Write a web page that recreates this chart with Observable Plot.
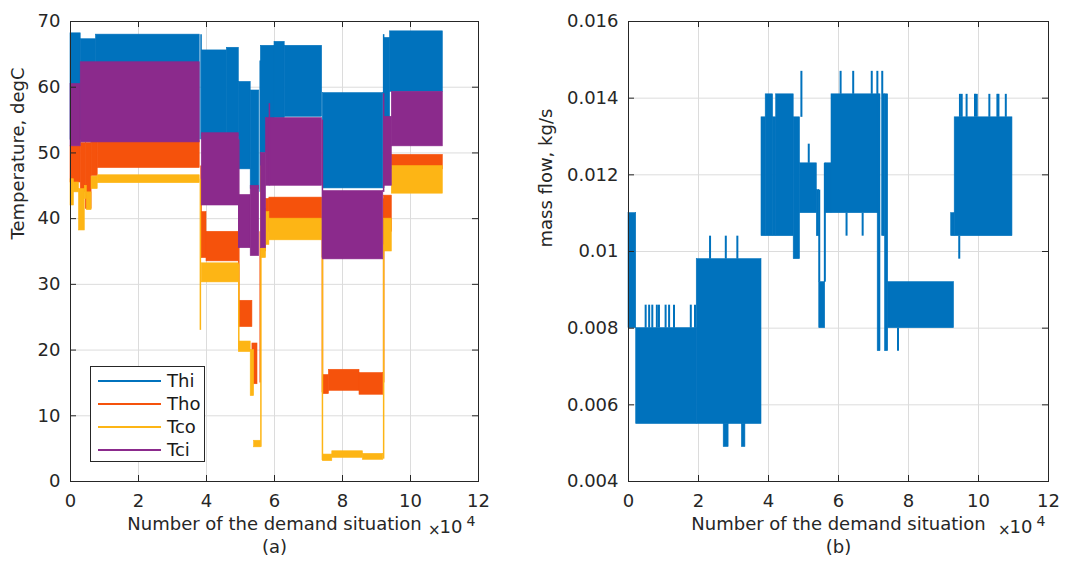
<!DOCTYPE html>
<html>
<head>
<meta charset="utf-8">
<script src="https://cdn.jsdelivr.net/npm/d3@7"></script>
<script src="https://cdn.jsdelivr.net/npm/@observablehq/plot@0.6"></script>
<style>
  html, body { margin: 0; padding: 0; background: #fff; }
  #wrap { position: relative; width: 1065px; height: 563px; display: flex; }
  #legend { position: absolute; left: 90px; top: 366px; width: 115px; height: 96px; box-sizing: border-box;
    border: 1px solid #262626; background: #fff; padding-top: 2px; font-family: "DejaVu Sans", sans-serif; font-size: 18px; color: #1a1a1a; }
  .row { height: 23px; display: flex; align-items: center; }
  .swatch { margin-left: 7px; width: 63px; height: 2px; margin-right: 6px; }
</style>
</head>
<body>
<div id="wrap"><div id="left"></div><div id="right"></div><div id="legend"></div></div>
<script>
// ---------- data (x in units of 10^4 demand situations) ----------
const xTicks = [0, 2, 4, 6, 8, 10, 12];
const tempTicks = [0, 10, 20, 30, 40, 50, 60, 70];
const flowTicks = [0.004, 0.006, 0.008, 0.010, 0.012, 0.014, 0.016];
const flowTickLabels = ["0.004", "0.006", "0.008", "0.01", "0.012", "0.014", "0.016"];

const seriesNames = ["Thi", "Tho", "Tco", "Tci"];
const seriesColors = ["#0072BD", "#F5520C", "#FDB515", "#8B2A8C"];
const flowColor = "#0072BD";

// oscillation envelopes: [x start, x end, min, max]
const thiBands = [
  [0, 0.3, 52, 68.2], [0.3, 0.75, 52, 67.3], [0.75, 3.8, 52, 68],
  [3.86, 4.6, 52.5, 65.6], [4.6, 4.95, 52.5, 66],
  [4.95, 5.3, 47.5, 60.8], [5.3, 5.55, 44.5, 59.5],
  [5.6, 6.0, 50, 66.3], [6.0, 6.3, 55.3, 66.9], [6.3, 7.4, 55.5, 66.3],
  [7.42, 9.2, 44.6, 59.1],
  [9.22, 9.4, 55, 67.5], [9.4, 10.95, 59.3, 68.5]
];
const thoBands = [
  [0, 0.3, 45.5, 51], [0.3, 0.45, 44, 51.5], [0.45, 0.62, 41.5, 51.5], [0.62, 0.8, 46.5, 52],
  [0.8, 3.8, 47.7, 51.8],
  [3.86, 4.0, 34, 41], [4.0, 4.95, 33.5, 38],
  [4.95, 5.35, 23.5, 27.5], [5.35, 5.5, 14.8, 21],
  [5.62, 5.75, 35, 41.5], [5.75, 5.85, 38, 43], [5.85, 7.4, 39.8, 43.2],
  [7.42, 7.6, 13.3, 16.2], [7.6, 8.5, 13.8, 17], [8.5, 9.2, 13.2, 16.5],
  [9.22, 9.45, 38, 43.5], [9.45, 10.95, 47.5, 49.7]
];
const tcoBands = [
  [0, 0.1, 42, 46], [0.1, 0.25, 44, 45.5], [0.25, 0.42, 38.2, 44.5], [0.42, 0.48, 43, 45],
  [0.48, 0.62, 41.3, 44], [0.62, 0.8, 44.5, 46.4], [0.8, 3.8, 45.4, 46.6],
  [3.86, 4.95, 30.3, 33.2],
  [4.95, 5.3, 19.7, 21.3], [5.3, 5.4, 13, 20], [5.4, 5.6, 5.2, 6.2],
  [5.62, 5.75, 34, 40], [5.75, 5.85, 36, 41], [5.85, 7.4, 36.7, 40],
  [7.42, 7.7, 3.1, 4.1], [7.7, 8.6, 3.6, 4.6], [8.6, 9.2, 3.3, 4.2],
  [9.22, 9.45, 35, 40], [9.45, 10.95, 43.8, 48]
];
const tciBands = [
  [0, 0.3, 51, 60.5], [0.3, 3.8, 51.6, 63.8],
  [3.86, 4.95, 42, 53],
  [4.95, 5.3, 35.5, 43.6], [5.3, 5.55, 34.3, 45],
  [5.6, 5.75, 35.5, 50], [5.75, 7.4, 45, 55.3],
  [7.42, 9.2, 33.8, 44.2],
  [9.22, 9.45, 45, 55.5], [9.45, 10.95, 51, 59.3]
];
// transient jumps: [x, from, to]
const thiJumps = [[3.84, 52, 68], [5.58, 44, 64], [9.21, 44.6, 68]];
const thoJumps = [[3.84, 34, 48], [4.95, 24, 38], [5.58, 15, 38], [7.41, 13.5, 43], [9.21, 15, 43]];
const tcoJumps = [[3.82, 23, 46], [4.95, 20, 33], [5.6, 5.2, 48], [7.41, 3.2, 40], [9.21, 3.4, 36]];
const tciJumps = [[4.95, 35.5, 52], [5.85, 45, 57.5], [7.41, 34, 55], [9.21, 44, 59]];

const flowBands = [
  [0, 0.22, 0.0080, 0.0110],
  [0.22, 1.95, 0.0055, 0.0080],
  [1.95, 3.8, 0.0055, 0.0098],
  [2.72, 2.86, 0.0049, 0.0055], [3.24, 3.34, 0.0049, 0.0055],
  [3.8, 3.92, 0.0104, 0.0135], [3.92, 4.13, 0.0104, 0.0141], [4.13, 4.22, 0.0104, 0.0135],
  [4.22, 4.72, 0.0104, 0.0141], [4.72, 4.9, 0.0098, 0.0135],
  [4.9, 5.38, 0.0110, 0.0123], [5.38, 5.45, 0.0104, 0.0116],
  [5.45, 5.62, 0.0080, 0.0092],
  [5.62, 5.8, 0.0110, 0.0123], [5.8, 7.15, 0.0110, 0.0141],
  [7.12, 7.2, 0.0074, 0.0141], [7.28, 7.33, 0.0104, 0.0141], [7.33, 7.42, 0.0074, 0.0141],
  [7.42, 9.3, 0.0080, 0.0092],
  [9.22, 9.32, 0.0104, 0.0110], [9.32, 10.97, 0.0104, 0.0135]
];
// isolated excursions: [x, from, to]
const flowSpikes = [
  [0.49, 0.0080, 0.0086], [0.59, 0.0080, 0.0086], [0.68, 0.0080, 0.0086], [0.81, 0.0080, 0.0086],
  [0.87, 0.0080, 0.0086], [1.06, 0.0080, 0.0086], [1.16, 0.0080, 0.0086], [1.3, 0.0080, 0.0086],
  [1.78, 0.0080, 0.0086], [1.9, 0.0080, 0.0086],
  [2.33, 0.0098, 0.0104], [2.78, 0.0098, 0.0104], [3.11, 0.0098, 0.0104],
  [4.94, 0.0135, 0.0147], [5.15, 0.0123, 0.0128], [5.45, 0.0092, 0.0116], [5.61, 0.0092, 0.0123],
  [6.06, 0.0141, 0.0147], [6.42, 0.0141, 0.0147], [6.95, 0.0141, 0.0147], [7.11, 0.0141, 0.0147],
  [7.25, 0.0104, 0.0147], [6.23, 0.0104, 0.0110], [6.69, 0.0104, 0.0110], [7.7, 0.0074, 0.0080],
  [9.45, 0.0098, 0.0104], [9.47, 0.0135, 0.0141], [9.52, 0.0135, 0.0141], [9.66, 0.0135, 0.0141],
  [9.9, 0.0135, 0.0141], [9.95, 0.0135, 0.0141], [10.31, 0.0135, 0.0141], [10.54, 0.0135, 0.0141],
  [10.57, 0.0135, 0.0141], [10.78, 0.0135, 0.0141]
];

// ---------- drawing ----------
const toBand = b => ({x1: b[0], x2: b[1], lo: b[2], hi: b[3]});
const toJump = j => ({x: j[0], y1: j[1], y2: j[2]});
const H = 563, MT = 21, MB = 82, INNER = H - MT - MB;
const ink = "#262626", gridColor = "#dcdcdc";
const font = "DejaVu Sans, sans-serif";

function frameMarks(yTicks, yFormat) {
  return [
    Plot.frame({stroke: ink, strokeWidth: 1}),
    Plot.tickX(xTicks, {x: d => d, insetTop: INNER - 6, stroke: ink}),
    Plot.tickX(xTicks, {x: d => d, insetBottom: INNER - 6, stroke: ink}),
    Plot.axisX(xTicks, {tickSize: 0, tickPadding: 13, label: null, fontSize: 18, fill: ink}),
    Plot.axisY(yTicks, {tickSize: 0, tickPadding: 10, label: null, fontSize: 18, fill: ink, tickFormat: yFormat}),
    Plot.text(["Number of the demand situation"], {frameAnchor: "bottom", dy: 48, text: d => d, fontSize: 18, fill: ink}),
    Plot.text(["10"], {frameAnchor: "bottom-right", textAnchor: "end", dx: -16, dy: 51, text: d => d, fontSize: 18, fill: ink}),
    Plot.text(["4"], {frameAnchor: "bottom-right", textAnchor: "end", dx: -3, dy: 44, text: d => d, fontSize: 14, fill: ink}),
    Plot.text(["×"], {frameAnchor: "bottom-right", textAnchor: "end", dx: -38, dy: 53, text: d => d, fontSize: 15, fill: ink})
  ];
}

const yTickMarks = (yTicks, w) => [
  Plot.tickY(yTicks, {y: d => d, insetRight: w - 6, stroke: ink}),
  Plot.tickY(yTicks, {y: d => d, insetLeft: w - 6, stroke: ink})
];

const bandSets = [thiBands, thoBands, tcoBands, tciBands];
const jumpSets = [thiJumps, thoJumps, tcoJumps, tciJumps];

const leftW = 533, leftML = 70, leftMR = 55;
const left = Plot.plot({
  width: leftW, height: H, marginLeft: leftML, marginRight: leftMR, marginTop: MT, marginBottom: MB,
  x: {domain: [0, 12]}, y: {domain: [0, 70]},
  style: {fontFamily: font, fontSize: "18px", color: ink, background: "white"},
  marks: [
    Plot.gridX(xTicks, {stroke: gridColor, strokeOpacity: 1}),
    Plot.gridY(tempTicks, {stroke: gridColor, strokeOpacity: 1}),
    ...bandSets.flatMap((bands, i) => [
      Plot.rect(bands.map(toBand), {x1: "x1", x2: "x2", y1: "lo", y2: "hi", fill: seriesColors[i], stroke: seriesColors[i], strokeWidth: 0.6}),
      Plot.ruleX(jumpSets[i].map(toJump), {x: "x", y1: "y1", y2: "y2", stroke: seriesColors[i], strokeWidth: 1.5})
    ]),
    ...yTickMarks(tempTicks, leftW - leftML - leftMR),
    ...frameMarks(tempTicks, d => String(d)),
    Plot.text(["Temperature, degC"], {frameAnchor: "left", dx: -52, dy: -12, rotate: -90, text: d => d, fontSize: 18, fill: ink}),
    Plot.text(["(a)"], {frameAnchor: "bottom", dy: 71, text: d => d, fontSize: 18, fill: ink})
  ]
});

const rightW = 532, rightML = 95, rightMR = 17;
const right = Plot.plot({
  width: rightW, height: H, marginLeft: rightML, marginRight: rightMR, marginTop: MT, marginBottom: MB,
  x: {domain: [0, 12]}, y: {domain: [0.004, 0.016]},
  style: {fontFamily: font, fontSize: "18px", color: ink, background: "white"},
  marks: [
    Plot.gridX(xTicks, {stroke: gridColor, strokeOpacity: 1}),
    Plot.gridY(flowTicks, {stroke: gridColor, strokeOpacity: 1}),
    Plot.rect(flowBands.map(toBand), {x1: "x1", x2: "x2", y1: "lo", y2: "hi", fill: flowColor, stroke: flowColor, strokeWidth: 0.6}),
    Plot.ruleX(flowSpikes.map(toJump), {x: "x", y1: "y1", y2: "y2", stroke: flowColor, strokeWidth: 2}),
    ...yTickMarks(flowTicks, rightW - rightML - rightMR),
    ...frameMarks(flowTicks, d => flowTickLabels[flowTicks.indexOf(d)]),
    Plot.text(["mass flow, kg/s"], {frameAnchor: "left", dx: -82, dy: -4, rotate: -90, text: d => d, fontSize: 18, fill: ink}),
    Plot.text(["(b)"], {frameAnchor: "bottom", dy: 71, text: d => d, fontSize: 18, fill: ink})
  ]
});

document.getElementById("left").appendChild(left);
document.getElementById("right").appendChild(right);

const legend = document.getElementById("legend");
seriesNames.forEach((name, i) => {
  const row = document.createElement("div");
  row.className = "row";
  const sw = document.createElement("div");
  sw.className = "swatch";
  sw.style.background = seriesColors[i];
  const lab = document.createElement("span");
  lab.textContent = name;
  row.appendChild(sw);
  row.appendChild(lab);
  legend.appendChild(row);
});
</script>
</body>
</html>
